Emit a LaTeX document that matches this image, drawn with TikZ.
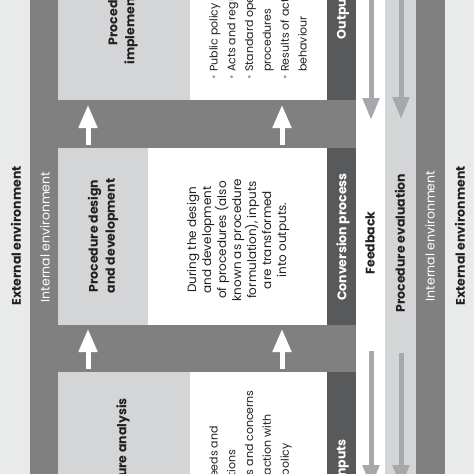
\documentclass[tikz,border=0pt]{standalone}
\usepackage{fontspec}
\setmainfont{Poppins}
\usetikzlibrary{arrows.meta}
\definecolor{extbg}{HTML}{E9EAEA}
\definecolor{intbg}{HTML}{808080}
\definecolor{boxbg}{HTML}{D4D5D6}
\definecolor{convbg}{HTML}{58595B}
\definecolor{arrgray}{HTML}{A6A8AB}
\definecolor{txt}{HTML}{231F20}
\definecolor{bul}{HTML}{9A9A9A}
\newcommand{\bitem}{\makebox[8pt][l]{\textcolor{bul}{\textbullet}}}
\newcommand{\bcont}{\hspace*{8pt}}
\begin{document}
\begin{tikzpicture}[x=1pt,y=-1pt,
  lab/.style={rotate=90, inner sep=0pt, align=center, text=txt,
    font=\fontsize{12.5}{17}\selectfont\bfseries},
  wlab/.style={lab, text=white},
  wlabreg/.style={rotate=90, inner sep=0pt, text=white,
    font=\fontsize{12.5}{17}\selectfont},
  desc/.style={rotate=90, inner sep=0pt, align=center, text=txt,
    font=\fontsize{12}{15}\selectfont},
  blist/.style={rotate=90, inner sep=0pt, align=left, text=txt,
    anchor=north west, font=\fontsize{11}{17.8}\selectfont},
  uparrow/.style={draw=white, line width=5pt,
    -{Triangle[width=18pt,length=23pt]}, fill=white},
  downarrow/.style={draw=arrgray, line width=5pt,
    -{Triangle[width=16pt,length=22pt]}, fill=arrgray}]
\useasboundingbox (0,0) rectangle (474,474);
\clip (0,0) rectangle (474,474);
\fill[white] (0,0) rectangle (474,474);
% environment columns
\fill[extbg] (0,-10) rectangle (30,484);
\fill[intbg] (30,-10) rectangle (58,484);
\fill[boxbg] (385,-10) rectangle (416,484);
\fill[intbg] (416,-10) rectangle (445,484);
\fill[extbg] (445,-10) rectangle (474,484);
% bands between stages
\fill[intbg] (58,100) rectangle (356,148);
\fill[intbg] (58,325) rectangle (356,372);
% stage boxes
\fill[boxbg] (58,-77) rectangle (190,100);
\fill[convbg] (327,-77) rectangle (356,100);
\fill[boxbg] (58,148) rectangle (148,325);
\fill[convbg] (327,148) rectangle (356,325);
\fill[boxbg] (58,372) rectangle (190,549);
\fill[convbg] (327,372) rectangle (356,549);

% column labels
\node[lab] (extL) at (16,236) {External environment};
\node[wlabreg] (intL) at (45,237) {Internal environment};
\node[wlab] (conv) at (343,237) {Conversion process};
\node[wlab] (outp) at (343,13) {Outputs};
\node[wlab] (inp) at (343,460) {Inputs};
\node[lab] (fb) at (370,243) {Feedback};
\node[lab] (ev) at (400,243) {Procedure evaluation};
\node[wlabreg] (intR) at (430,236) {Internal environment};
\node[lab] (extR) at (460,236) {External environment};

% stage titles
\node[lab] (t1) at (123,12) {Procedure\\implementation};
\node[lab] (t2) at (103,236) {Procedure design\\and development};
\node[lab] (t3) at (123,460) {Procedure analysis};

% stage texts
\node[blist] (b1) at (209,80) {\bitem Public policy\\
  \bitem Acts and regulations\\
  \bitem Standard operating\\ \bcont procedures\\
  \bitem Results of actual\\ \bcont behaviour};
\node[desc] (d2) at (238,240) {During the design\\and development\\of procedures (also\\known as procedure\\formulation), inputs\\are transformed\\into outputs.};
\node[blist] (b3) at (209,529) {\bitem Public needs and\\ \bcont expectations\\
  \bitem Problems and concerns\\
  \bitem Dissatisfaction with\\ \bcont existing policy};

% arrows between stages
\coordinate (u1s) at (88,145);  \coordinate (u1e) at (88,105);
\coordinate (u2s) at (282,145); \coordinate (u2e) at (282,105);
\coordinate (u3s) at (88,369);  \coordinate (u3e) at (88,329);
\coordinate (u4s) at (282,369); \coordinate (u4e) at (282,329);
\draw[uparrow] (u1s) -- (u1e);
\draw[uparrow] (u2s) -- (u2e);
\draw[uparrow] (u3s) -- (u3e);
\draw[uparrow] (u4s) -- (u4e);
% feedback arrows
\coordinate (f1s) at (371,-20); \coordinate (f1e) at (371,120);
\coordinate (f2s) at (371,351); \coordinate (f2e) at (371,487);
\coordinate (e1s) at (401,-20); \coordinate (e1e) at (401,119);
\coordinate (e2s) at (401,353); \coordinate (e2e) at (401,487);
\draw[downarrow] (f1s) -- (f1e);
\draw[downarrow] (f2s) -- (f2e);
\draw[downarrow] (e1s) -- (e1e);
\draw[downarrow] (e2s) -- (e2e);
\end{tikzpicture}
\end{document}
